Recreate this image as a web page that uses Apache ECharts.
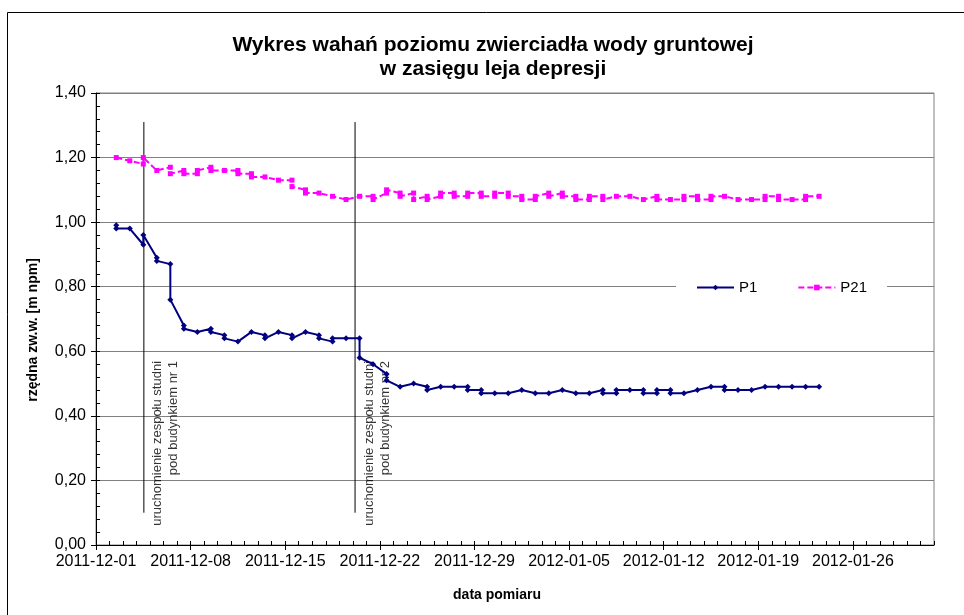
<!DOCTYPE html>
<html>
<head>
<meta charset="utf-8">
<script src="https://cdn.jsdelivr.net/npm/echarts@6/dist/echarts.min.js"></script>
<style>
html,body{margin:0;padding:0;background:#fff;}
#chart{width:964px;height:615px;}
</style>
</head>
<body>
<div id="chart"></div>
<script>
// ---------- DATA ----------
const titleText = 'Wykres wahań poziomu zwierciadła wody gruntowej\nw zasięgu leja depresji';
const yAxisTitle = 'rzędna zw.w. [m npm]';
const xAxisTitle = 'data pomiaru';
const seriesNames = ['P1', 'P21'];

const axisStartDate = '2011-12-01';
const axisEndDate = '2012-02-01';
const xTickLabels = ['2011-12-01','2011-12-08','2011-12-15','2011-12-22','2011-12-29','2012-01-05','2012-01-12','2012-01-19','2012-01-26'];
const yTicks = [0, 0.2, 0.4, 0.6, 0.8, 1.0, 1.2, 1.4];

const dates = [
 '2011-12-02','2011-12-03','2011-12-04','2011-12-05','2011-12-06','2011-12-07','2011-12-08','2011-12-09','2011-12-10','2011-12-11',
 '2011-12-12','2011-12-13','2011-12-14','2011-12-15','2011-12-16','2011-12-17','2011-12-18','2011-12-19','2011-12-20','2011-12-21',
 '2011-12-22','2011-12-23','2011-12-24','2011-12-25','2011-12-26','2011-12-27','2011-12-28','2011-12-29','2011-12-30','2011-12-31',
 '2012-01-01','2012-01-02','2012-01-03','2012-01-04','2012-01-05','2012-01-06','2012-01-07','2012-01-08','2012-01-09','2012-01-10',
 '2012-01-11','2012-01-12','2012-01-13','2012-01-14','2012-01-15','2012-01-16','2012-01-17','2012-01-18','2012-01-19','2012-01-20',
 '2012-01-21','2012-01-22','2012-01-23'
];

// readings per date (some dates have two readings)
const p1Values = [
 [0.99,0.98],[0.98],[0.93,0.96],[0.89,0.88],[0.87,0.76],[0.68,0.67],[0.66],[0.67,0.66],[0.65,0.64],[0.63],
 [0.66],[0.65,0.64],[0.66],[0.65,0.64],[0.66],[0.65,0.64],[0.63,0.64],[0.64],[0.64,0.58],[0.56],
 [0.53,0.51],[0.49],[0.50],[0.49,0.48],[0.49],[0.49],[0.49,0.48],[0.48,0.47],[0.47],[0.47],
 [0.48],[0.47],[0.47],[0.48],[0.47],[0.47],[0.48,0.47],[0.47,0.48],[0.48],[0.48,0.47],
 [0.47,0.48],[0.48,0.47],[0.47],[0.48],[0.49],[0.49,0.48],[0.48],[0.48],[0.49],[0.49],
 [0.49],[0.49],[0.49]
];
const p21Values = [
 [1.20],[1.19],[1.18,1.20],[1.16],[1.17,1.15],[1.16,1.15],[1.15,1.16],[1.17,1.16],[1.16],[1.16,1.15],
 [1.15,1.14],[1.14],[1.13],[1.13,1.11],[1.10,1.09],[1.09],[1.08],[1.07],[1.08],[1.08,1.07],
 [1.09,1.10],[1.09,1.08],[1.09,1.07],[1.08,1.07],[1.08,1.09],[1.09,1.08],[1.08,1.09],[1.09,1.08],[1.08,1.09],[1.09,1.08],
 [1.08,1.07],[1.07,1.08],[1.09,1.08],[1.09,1.08],[1.08,1.07],[1.07,1.08],[1.08,1.07],[1.08],[1.08],[1.07],
 [1.08,1.07],[1.07],[1.07,1.08],[1.08,1.07],[1.07,1.08],[1.08],[1.07],[1.07],[1.07,1.08],[1.08,1.07],
 [1.07],[1.07,1.08],[1.08]
];

// annotations (vertical lines with rotated notes)
const annotTimes = ['2011-12-04T13:00', '2011-12-20T04:00'];
const annotTexts = ['uruchomienie zespołu studni\npod budynkiem nr 1', 'uruchomienie zespołu studni\npod budynkiem nr 2'];
const annotLineFrom = 0.10;
const annotLineTo = 1.31;
const annotTextTop = 0.57;

// ---------- HELPERS ----------
const DAY = 86400000;
const t0 = Date.parse(axisStartDate + 'T00:00:00Z');
function dayPos(s) {
  const t = s.length === 10 ? Date.parse(s + 'T12:00:00Z') : Date.parse(s + ':00Z');
  return (t - t0) / DAY;
}
function tickPos(s) { return (Date.parse(s + 'T00:00:00Z') - t0) / DAY; }
const xMax = tickPos(axisEndDate);
const xTickVals = xTickLabels.map(tickPos);
const xMinorVals = []; for (let d = 0; d <= xMax; d++) xMinorVals.push(d);
const yMinorVals = []; for (let k = 0; k <= 35; k++) yMinorVals.push(+(k * 0.04).toFixed(2));

function buildSeriesData(vals) {
  const out = [];
  dates.forEach((d, i) => { vals[i].forEach(v => out.push([dayPos(d), v])); });
  return out;
}

const FONT = 'Liberation Sans, Arial, sans-serif';

const series = [
  {
    name: seriesNames[0], type: 'line', data: buildSeriesData(p1Values),
    symbol: 'diamond', symbolSize: 6, showSymbol: true,
    itemStyle: { color: '#000080' },
    lineStyle: { color: '#000080', width: 2 },
    z: 5
  },
  {
    name: seriesNames[1], type: 'line', data: buildSeriesData(p21Values),
    symbol: 'rect', symbolSize: 5, showSymbol: true,
    itemStyle: { color: '#FF00FF' },
    lineStyle: { color: '#FF00FF', width: 2, type: [6, 3] },
    z: 5
  }
];
annotTimes.forEach((t, i) => {
  const x = dayPos(t);
  series.push({
    name: 'annot' + i, type: 'line', silent: true, symbol: 'none',
    data: [[x, annotLineFrom], [x, annotLineTo]],
    lineStyle: { color: '#000', width: 1 }, z: 3
  });
  series.push({
    name: 'annotText' + i, type: 'scatter', silent: true,
    symbolSize: 1, itemStyle: { color: 'rgba(0,0,0,0)' },
    data: [[x, annotTextTop]],
    label: {
      show: true, formatter: annotTexts[i], position: 'inside',
      rotate: 90, align: 'right', verticalAlign: 'top', offset: [0, 6],
      fontFamily: FONT, fontSize: 13, lineHeight: 16, color: '#000'
    },
    z: 4
  });
});

const option = {
  animation: false,
  backgroundColor: '#fff',
  textStyle: { fontFamily: FONT },
  title: {
    text: titleText, left: 488, top: 28, textAlign: 'center',
    textStyle: { fontFamily: FONT, fontSize: 21, fontWeight: 'bold', lineHeight: 24, color: '#000' }
  },
  legend: {
    data: seriesNames, left: 676, top: 275,
    backgroundColor: '#fff', padding: [5, 20, 5, 20],
    itemWidth: 37, itemHeight: 7, itemGap: 40,
    textStyle: { fontFamily: FONT, fontSize: 15, color: '#000' }
  },
  graphic: [{
    type: 'rect', silent: true,
    shape: { x: 7.5, y: 12.5, width: 1000, height: 700 },
    style: { fill: null, stroke: '#000', lineWidth: 1 }
  }],
  grid: { left: 96, right: 30, top: 93, bottom: 70, show: true, borderColor: '#808080', borderWidth: 1, backgroundColor: '#fff' },
  xAxis: [
    {
      type: 'value', min: 0, max: xMax, position: 'bottom',
      name: xAxisTitle, nameLocation: 'middle', nameGap: 43,
      nameTextStyle: { fontFamily: FONT, fontSize: 14, fontWeight: 'bold', color: '#000', padding: [0, 36, 0, 0] },
      axisLine: { show: true, lineStyle: { color: '#000', width: 1 } },
      axisTick: { show: true, customValues: xTickVals, length: 5, inside: false, lineStyle: { color: '#000' } },
      axisLabel: {
        customValues: xTickVals, margin: 9,
        formatter: v => { const i = xTickVals.indexOf(v); return i >= 0 ? xTickLabels[i] : ''; },
        fontFamily: FONT, fontSize: 16, color: '#000'
      },
      splitLine: { show: false }
    },
    {
      type: 'value', min: 0, max: xMax, position: 'bottom',
      axisLine: { show: false },
      axisTick: { show: true, customValues: xMinorVals, length: 4, inside: true, lineStyle: { color: '#000' } },
      axisLabel: { show: false },
      splitLine: { show: false }
    }
  ],
  yAxis: [
    {
      type: 'value', min: 0, max: 1.4, interval: 0.2, position: 'left',
      name: yAxisTitle, nameLocation: 'middle', nameGap: 56, nameRotate: 90,
      nameTextStyle: { fontFamily: FONT, fontSize: 14, fontWeight: 'bold', color: '#000', padding: [0, 22, 0, 0] },
      axisLine: { show: true, lineStyle: { color: '#000', width: 1 } },
      axisTick: { show: true, customValues: yTicks, length: 5, inside: false, lineStyle: { color: '#000' } },
      axisLabel: {
        customValues: yTicks, margin: 10,
        formatter: v => v.toFixed(2).replace('.', ','),
        fontFamily: FONT, fontSize: 16, color: '#000'
      },
      splitLine: { show: true, lineStyle: { color: '#808080', width: 1 } }
    },
    {
      type: 'value', min: 0, max: 1.4, position: 'left',
      axisLine: { show: false },
      axisTick: { show: true, customValues: yMinorVals, length: 4, inside: true, lineStyle: { color: '#000' } },
      axisLabel: { show: false },
      splitLine: { show: false }
    }
  ],
  series: series
};

const chart = echarts.init(document.getElementById('chart'), null, { renderer: 'canvas' });
chart.setOption(option);
</script>
</body>
</html>
